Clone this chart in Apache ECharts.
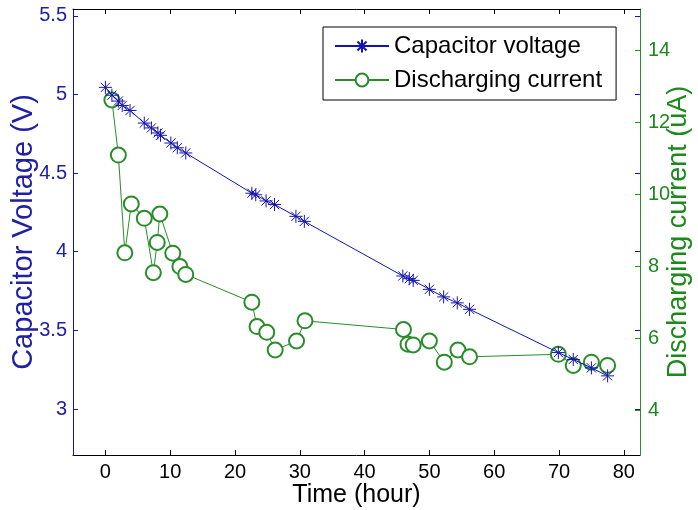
<!DOCTYPE html>
<html>
<head>
<meta charset="utf-8">
<script src="https://cdn.jsdelivr.net/npm/echarts@6/dist/echarts.min.js"></script>
<style>html,body{margin:0;padding:0;background:#fff}#c{width:698px;height:510px}</style>
</head>
<body>
<div id="c"></div>
<script>
// ---- data ----
const timeV = [0, 1, 2, 2.6, 3.8, 6, 7.1, 8.1, 8.5, 10.1, 11.1, 12.4, 22.6, 23.2, 24.8, 26.1, 29.4, 30.7, 45.9, 46.9, 47.5, 50, 52.2, 54.3, 56.2, 69.9, 72.2, 75, 77.5];
const voltage = [5.045, 4.995, 4.958, 4.93, 4.898, 4.818, 4.787, 4.755, 4.74, 4.691, 4.661, 4.628, 4.372, 4.362, 4.323, 4.30, 4.225, 4.193, 3.846, 3.829, 3.818, 3.761, 3.713, 3.675, 3.634, 3.359, 3.315, 3.262, 3.211];
const timeI = [1, 2, 3, 4, 6, 7.4, 8, 8.4, 10.4, 11.5, 12.4, 22.6, 23.4, 24.9, 26.2, 29.5, 30.8, 46.0, 46.7, 47.5, 50, 52.3, 54.4, 56.2, 69.9, 72.2, 75, 77.5];
const current = [12.62, 11.09, 8.37, 9.73, 9.33, 7.82, 8.66, 9.45, 8.36, 7.99, 7.77, 7.0, 6.32, 6.16, 5.67, 5.92, 6.48, 6.24, 5.83, 5.81, 5.92, 5.33, 5.67, 5.48, 5.55, 5.24, 5.33, 5.24];
const xTicks = [0, 10, 20, 30, 40, 50, 60, 70, 80];
const vTicks = [3, 3.5, 4, 4.5, 5, 5.5];
const iTicks = [4, 6, 8, 10, 12, 14];
const seriesNames = ['Capacitor voltage', 'Discharging current'];

const BLUE = '#1414b4', BLUE_T = '#2020a4', GREEN = '#2a8c2a', GREEN_T = '#1b8a1b';
const FONT = 'Liberation Sans, Arial, sans-serif';
const star = 'path://M0,-10L0,10M-10,0L10,0M-7.07,-7.07L7.07,7.07M-7.07,7.07L7.07,-7.07';

const chart = echarts.init(document.getElementById('c'), null, {renderer: 'canvas'});
chart.setOption({
  animation: false,
  backgroundColor: '#fff',
  textStyle: {fontFamily: FONT},
  grid: {left: 73, right: 58, top: 9, bottom: 55, containLabel: false, outerBoundsMode: 'none'},
  legend: {
    orient: 'vertical', left: 323, top: 27,
    padding: [7, 14, 8, 11],
    itemWidth: 54, itemHeight: 16, itemGap: 10,
    borderColor: '#000', borderWidth: 1, backgroundColor: '#fff',
    textStyle: {fontSize: 24, color: '#000', fontFamily: FONT},
    data: seriesNames
  },
  xAxis: [{
    type: 'value', min: -5, max: 82.5, position: 'bottom',
    axisLine: {show: true, onZero: false, lineStyle: {color: '#000', width: 1}},
    axisTick: {show: true, inside: true, length: 5, customValues: xTicks, lineStyle: {color: '#000'}},
    axisLabel: {customValues: xTicks, color: '#000', fontSize: 20, margin: 7, fontFamily: FONT},
    splitLine: {show: false},
    name: 'Time (hour)', nameLocation: 'middle', nameGap: 28, nameMoveOverlap: false,
    nameTextStyle: {fontSize: 25, color: '#000', fontFamily: FONT}
  }, {
    type: 'value', min: -5, max: 82.5, position: 'top',
    axisLine: {show: true, onZero: false, lineStyle: {color: '#000', width: 1}},
    axisTick: {show: true, inside: true, length: 5, customValues: xTicks, lineStyle: {color: '#000'}},
    axisLabel: {show: false}, splitLine: {show: false}
  }],
  yAxis: [{
    type: 'value', min: 2.708, max: 5.543, position: 'left',
    axisLine: {show: true, onZero: false, lineStyle: {color: BLUE, width: 1}},
    axisTick: {show: true, inside: true, length: 5, customValues: vTicks, lineStyle: {color: BLUE}},
    axisLabel: {customValues: vTicks, color: BLUE_T, fontSize: 20, margin: 6, fontFamily: FONT},
    splitLine: {show: false},
    name: 'Capacitor Voltage (V)', nameLocation: 'middle', nameGap: 35, nameRotate: 90, nameMoveOverlap: false,
    nameTextStyle: {fontSize: 29, color: BLUE_T, fontFamily: FONT}
  }, {
    type: 'value', min: 2.75, max: 15.15, position: 'right',
    axisLine: {show: true, onZero: false, lineStyle: {color: GREEN, width: 1}},
    axisTick: {show: true, inside: true, length: 5, customValues: iTicks, lineStyle: {color: GREEN}},
    axisLabel: {customValues: iTicks, color: GREEN_T, fontSize: 20, margin: 8, fontFamily: FONT},
    splitLine: {show: false},
    name: 'Discharging current (uA)', nameLocation: 'middle', nameGap: 25, nameRotate: 90, nameMoveOverlap: false,
    nameTextStyle: {fontSize: 27, color: GREEN_T, fontFamily: FONT}
  }, {
    type: 'value', min: 2.708, max: 5.543, position: 'right',
    axisLine: {show: false, onZero: false},
    axisTick: {show: true, inside: true, length: 5, customValues: vTicks, lineStyle: {color: BLUE}},
    axisLabel: {show: false}, splitLine: {show: false}
  }],
  series: [{
    name: seriesNames[0], type: 'line', xAxisIndex: 0, yAxisIndex: 0,
    data: timeV.map((t, i) => [t, voltage[i]]),
    symbol: star, symbolSize: 13,
    lineStyle: {color: BLUE, width: 1},
    itemStyle: {color: BLUE, borderColor: BLUE, borderWidth: 1},
    z: 3
  }, {
    name: seriesNames[1], type: 'line', xAxisIndex: 0, yAxisIndex: 1,
    data: timeI.map((t, i) => [t, current[i]]),
    symbol: 'emptyCircle', symbolSize: 15,
    lineStyle: {color: GREEN, width: 1},
    itemStyle: {color: GREEN, borderColor: GREEN, borderWidth: 1},
    z: 2
  }]
});
</script>
</body>
</html>
